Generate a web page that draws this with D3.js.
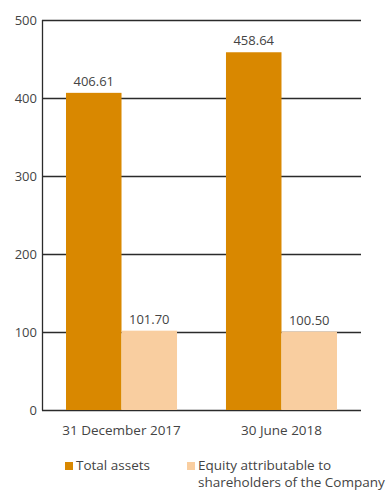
<!DOCTYPE html>
<html>
<head>
<meta charset="utf-8">
<script src="https://cdn.jsdelivr.net/npm/d3@7"></script>
<style>
  html, body { margin: 0; padding: 0; background: #fff; }
  svg { display: block; font-family: "Open Sans", "Noto Sans", sans-serif; }
</style>
</head>
<body>
<svg id="chart" width="386" height="490"></svg>
<script>
const categories = ["31 December 2017", "30 June 2018"];
const seriesNames = ["Total assets", "Equity attributable to shareholders of the Company"];
const totalAssets = [406.61, 458.64];
const equity = [101.70, 100.50];
const yTicks = [0, 100, 200, 300, 400, 500];
const colors = ["#d98800", "#f9cea0"];

const svg = d3.select("#chart");
const plotLeft = 42, plotRight = 361, plotTop = 20, plotBottom = 410;
const textColor = "#444";

const x = d3.scaleBand().domain(categories).range([plotLeft, plotRight])
  .paddingInner(0.306).paddingOuter(0.15);
const sub = d3.scaleBand().domain([0, 1]).range([0, x.bandwidth()]);
const y = d3.scaleLinear().domain([0, 500]).range([plotBottom, plotTop]);

// horizontal grid lines at each tick
svg.append("g").selectAll("line").data(yTicks).join("line")
  .attr("x1", plotLeft).attr("x2", plotRight)
  .attr("y1", d => Math.round(y(d)) + 0.5).attr("y2", d => Math.round(y(d)) + 0.5)
  .attr("stroke", "#2b2b2b").attr("stroke-width", 1.3);

// y axis labels
svg.append("g").selectAll("text").data(yTicks).join("text")
  .attr("x", plotLeft - 5).attr("y", d => y(d) + 5)
  .attr("text-anchor", "end").attr("font-size", 13).attr("fill", textColor)
  .text(d => d);

const series = [totalAssets, equity];
series.forEach((vals, si) => {
  const g = svg.append("g");
  g.selectAll("rect").data(vals).join("rect")
    .attr("x", (d, i) => x(categories[i]) + sub(si))
    .attr("width", sub.bandwidth())
    .attr("y", d => y(d))
    .attr("height", d => y(0) - y(d))
    .attr("fill", colors[si]);
  g.selectAll("text").data(vals).join("text")
    .attr("x", (d, i) => x(categories[i]) + sub(si) + sub.bandwidth() / 2)
    .attr("y", d => y(d) - 7)
    .attr("text-anchor", "middle").attr("font-size", 13).attr("fill", textColor)
    .text(d => d.toFixed(2));
});

// y axis line
svg.append("line")
  .attr("x1", plotLeft + 0.5).attr("x2", plotLeft + 0.5)
  .attr("y1", y(500)).attr("y2", y(0) + 0.5)
  .attr("stroke", "#2b2b2b").attr("stroke-width", 1.3);

// category labels
svg.append("g").selectAll("text").data(categories).join("text")
  .attr("x", d => x(d) + x.bandwidth() / 2)
  .attr("y", 435)
  .attr("text-anchor", "middle").attr("font-size", 13.5).attr("fill", textColor)
  .text(d => d);

// legend
const legend = svg.append("g").attr("font-size", 13.5).attr("fill", textColor);
legend.append("rect").attr("x", 65).attr("y", 462).attr("width", 8).attr("height", 8).attr("fill", colors[0]);
legend.append("text").attr("x", 76).attr("y", 470).text(seriesNames[0]);
legend.append("rect").attr("x", 187).attr("y", 462).attr("width", 8).attr("height", 8).attr("fill", colors[1]);
legend.append("text").attr("x", 198).attr("y", 470).text("Equity attributable to");
legend.append("text").attr("x", 198).attr("y", 487).text("shareholders of the Company");
</script>
</body>
</html>
